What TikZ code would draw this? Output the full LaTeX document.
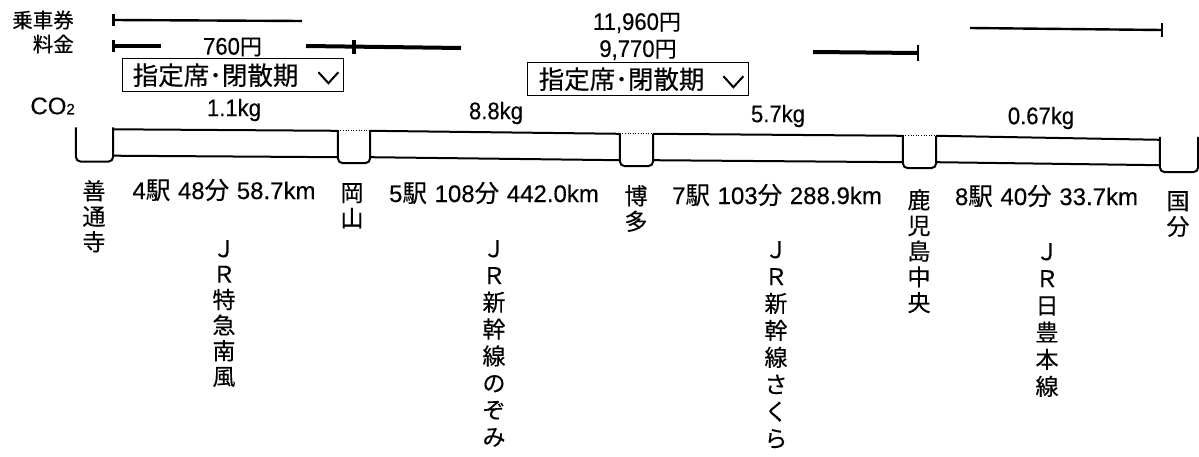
\documentclass[tikz,border=0pt]{standalone}
\usepackage{fontspec}
\setmainfont[FakeBold=0.3]{Noto Sans CJK JP}
\newfontfamily\latn[FakeStretch=0.92,FakeBold=0.3]{Liberation Sans}
\newfontfamily\latw[FakeBold=0.3]{Liberation Sans}
\usetikzlibrary{calc}
\newcommand{\J}[1]{\fontsize{#1}{#1}\selectfont}
\newcommand{\K}[1]{{\J{22}\rmfamily #1}}
\newcommand{\KK}[1]{{\J{24.5}\rmfamily #1}}
\newcommand{\VJ}[1]{\fontsize{23}{#1}\selectfont\lineskiplimit=-100pt\relax\lineskip=0pt\relax}
\tikzset{
  x=1pt,y=-1pt,
  lab/.style={inner sep=0pt,font=\J{24}\latn,text=black},
  info/.style={inner sep=0pt,font=\J{24}\latw,text=black},
  head/.style={inner sep=0pt,font=\J{20.5},anchor=east},
  vertlab/.style={inner sep=0pt,anchor=north,align=center,font={\VJ{#1}}},
  railline/.style={line width=2pt,black},
  stnline/.style={line width=2pt,black,rounded corners=5pt},
  tickt/.style={line width=2.4pt,black},
  feet/.style={line width=4pt,black},
  endtick/.style={line width=3pt,black},
  sel/.style={draw=black,line width=1.4pt,inner sep=0pt,minimum height=33pt,font=\J{25.5},anchor=north west},
  chev/.style={line width=2pt,black}
}
\begin{document}
\begin{tikzpicture}
\useasboundingbox (0,0) rectangle (1199,457);
% row headings
\node[head] (h1) at (74,20) {乗車券};
\node[head] (h2) at (74,44) {料金};
\node[inner sep=0pt,anchor=east,font=\J{24}\latw] (h3) at (75,106) {CO{\J{15}2}};
% fare lines
\coordinate (t1a) at (113,20); \coordinate (t1b) at (302,21);
\coordinate (t2a) at (970,28); \coordinate (t2b) at (1162,30);
\draw[tickt] (t1a) -- (t1b);
\draw[tickt] (t2a) -- (t2b);
\draw[endtick] ($(t1a)+(0,-6)$) -- ($(t1a)+(0,6)$);
\draw[line width=2pt] ($(t2b)+(0,-7)$) -- ($(t2b)+(0,7)$);
\coordinate (f1a) at (113,46); \coordinate (f1b) at (161,46);
\coordinate (f2a) at (306,46); \coordinate (f2b) at (461,48);
\coordinate (f2m) at (354,47);
\coordinate (f3a) at (813,52); \coordinate (f3b) at (918,53);
\draw[feet] (f1a) -- (f1b);
\draw[feet] (f2a) -- (f2b);
\draw[feet] (f3a) -- (f3b);
\draw[endtick] ($(f1a)+(0,-6)$) -- ($(f1a)+(0,6)$);
\draw[line width=4pt] ($(f2m)+(0,-7)$) -- ($(f2m)+(0,7)$);
\draw[line width=2pt] ($(f3b)+(0,-8)$) -- ($(f3b)+(0,8)$);
% fares
\node[lab] (p1) at (232.5,47) {760\K{円}};
\node[lab] (p2) at (637,23) {11,960\K{円}};
\node[lab] (p3) at (638,50) {9,770\K{円}};
% selectors
\node[sel,minimum width=221pt,text width=215pt,align=left] (s1) at (122,58) {\hspace{7pt}指定席･閉散期};
\node[sel,minimum width=221pt,text width=215pt,align=left] (s2) at (527,62) {\hspace{8pt}指定席･閉散期};
\draw[chev] ($(s1.east)+(-26,-3)$) -- ($(s1.east)+(-16,8)$) -- ($(s1.east)+(-6,-3)$);
\draw[chev] ($(s2.east)+(-26,-3)$) -- ($(s2.east)+(-16,8)$) -- ($(s2.east)+(-6,-3)$);
% CO2
\node[lab] (c1) at (234,110) {1.1kg};
\node[lab] (c2) at (496,113) {8.8kg};
\node[lab] (c3) at (778,116) {5.7kg};
\node[lab] (c4) at (1041,118) {0.67kg};
% stations (outline boxes)
\node[inner sep=0pt,minimum width=37pt,minimum height=34pt] (a) at (94.5,144.5) {};
\node[inner sep=0pt,minimum width=32pt,minimum height=32pt] (b) at (354,147) {};
\node[inner sep=0pt,minimum width=33pt,minimum height=32pt] (c) at (636.5,150) {};
\node[inner sep=0pt,minimum width=33pt,minimum height=32pt] (d) at (919.5,152) {};
\node[inner sep=0pt,minimum width=38pt,minimum height=35pt] (e) at (1179,154.5) {};
\draw[stnline] (a.north west) |- (a.south east) -- (a.north east);
\draw[stnline] (b.north west) |- (b.south east) -- (b.north east);
\draw[stnline] (c.north west) |- (c.south east) -- (c.north east);
\draw[stnline] (d.north west) |- (d.south east) -- (d.north east);
\draw[stnline] (e.north west) |- (e.south east) -- (e.north east);
\draw[line width=0.6pt,dotted,black] (b.north west) -- (b.north east);
\draw[line width=0.6pt,dotted,black] (c.north west) -- (c.north east);
\draw[line width=0.6pt,dotted,black] (d.north west) -- (d.north east);
% rails
\draw[railline] ($(a.north east)+(0,2)$) -- (b.north west);
\draw[railline] ($(a.south east)+(0,-6)$) -- ($(b.south west)+(0,-6)$);
\draw[railline] (b.north east) -- (c.north west);
\draw[railline] ($(b.south east)+(0,-6)$) -- ($(c.south west)+(0,-6)$);
\draw[railline] (c.north east) -- (d.north west);
\draw[railline] ($(c.south east)+(0,-6)$) -- ($(d.south west)+(0,-6)$);
\draw[railline] (d.north east) -- ($(e.north west)+(0,3)$);
\draw[railline] ($(d.south east)+(0,-6)$) -- ($(e.south west)+(0,-7)$);
% section info
\node[info] (i1) at (224,190) {4\KK{駅}\hspace{1pt} 48\KK{分}\hspace{1pt} 58.7km};
\node[info] (i2) at (494,193) {5\KK{駅}\hspace{1pt} 108\KK{分}\hspace{1pt} 442.0km};
\node[info] (i3) at (777,195) {7\KK{駅}\hspace{1pt} 103\KK{分}\hspace{1pt} 288.9km};
\node[info] (i4) at (1046.5,196) {8\KK{駅}\hspace{1pt} 40\KK{分}\hspace{1pt} 33.7km};
% station names
\node[vertlab=25.5] (n1) at (94,180) {善\\通\\寺};
\node[vertlab=25.5] (n2) at (352,183) {岡\\山};
\node[vertlab=25.5] (n3) at (636,185) {博\\多};
\node[vertlab=25.7] (n4) at (919,189) {鹿\\児\\島\\中\\央};
\node[vertlab=25.5] (n5) at (1178,191) {国\\分};
% line names
\node[vertlab=25.6] (l1) at (224,240) {Ｊ\\Ｒ\\特\\急\\南\\風};
\node[vertlab=26.9] (l2) at (494,240) {Ｊ\\Ｒ\\新\\幹\\線\\の\\ぞ\\み};
\node[vertlab=27] (l3) at (776,241) {Ｊ\\Ｒ\\新\\幹\\線\\さ\\く\\ら};
\node[vertlab=27] (l4) at (1047,243) {Ｊ\\Ｒ\\日\\豊\\本\\線};
\end{tikzpicture}
\end{document}
